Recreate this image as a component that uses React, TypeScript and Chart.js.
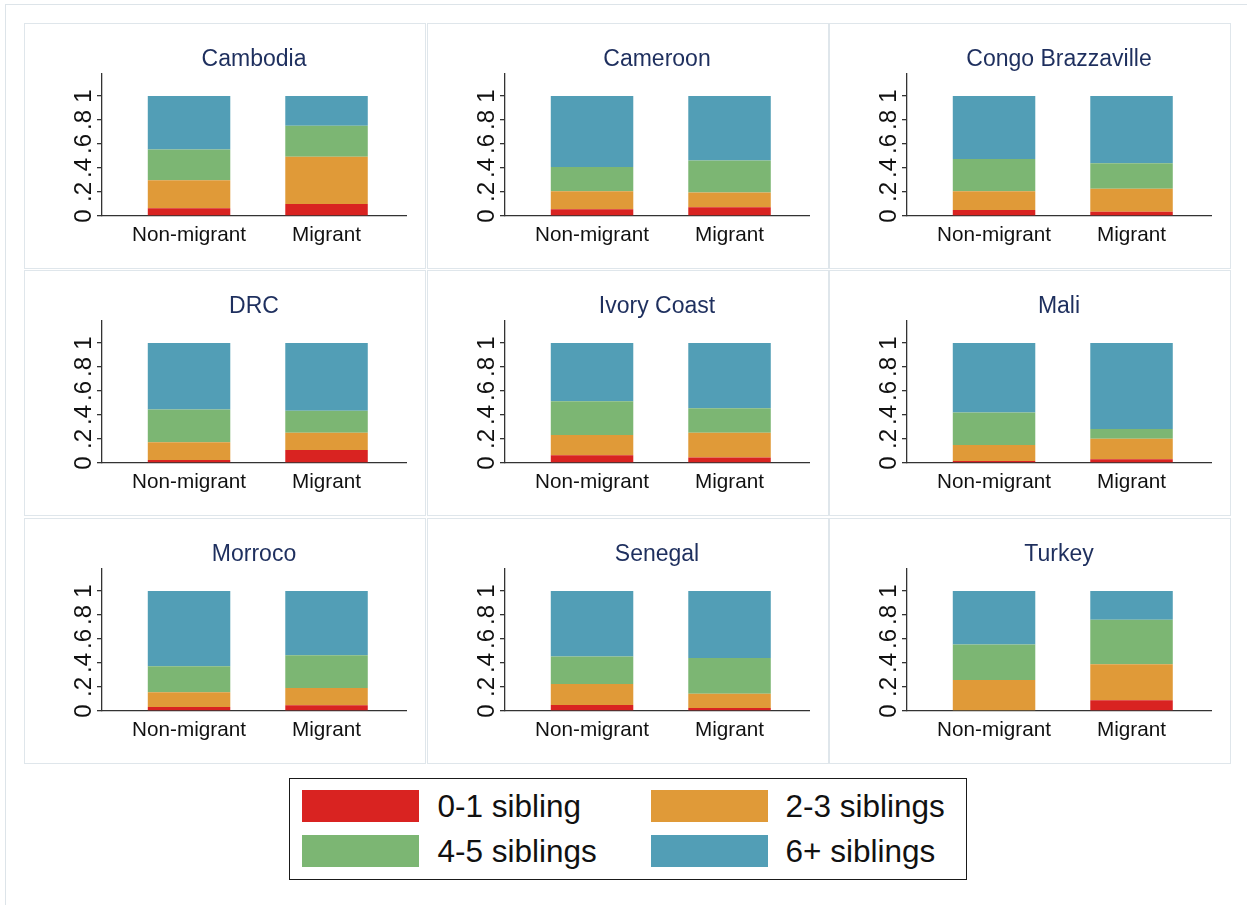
import React, { useEffect, useRef } from 'react';
import { Chart, registerables } from 'chart.js';

Chart.register(...registerables);

const FONT = '"Liberation Sans", Arial, Helvetica, sans-serif';

const COUNTRIES = [
  'Cambodia', 'Cameroon', 'Congo Brazzaville',
  'DRC', 'Ivory Coast', 'Mali',
  'Morroco', 'Senegal', 'Turkey',
];
const GROUPS = ['Non-migrant', 'Migrant'];
const SERIES_LABELS = ['0-1 sibling', '2-3 siblings', '4-5 siblings', '6+ siblings'];
const SERIES_COLORS = ['#d92321', '#e09a38', '#7cb673', '#529eb6'];

// Shares per country: [Non-migrant, Migrant]
const SIB_0_1 = [
  [0.064, 0.100], [0.056, 0.072], [0.050, 0.036],
  [0.025, 0.109], [0.064, 0.045], [0.017, 0.031],
  [0.033, 0.047], [0.050, 0.025], [0.000, 0.089],
];
const SIB_2_3 = [
  [0.234, 0.393], [0.150, 0.123], [0.156, 0.190],
  [0.148, 0.142], [0.170, 0.206], [0.133, 0.172],
  [0.123, 0.145], [0.175, 0.119], [0.258, 0.300],
];
const SIB_4_5 = [
  [0.256, 0.259], [0.203, 0.267], [0.268, 0.214],
  [0.273, 0.184], [0.281, 0.206], [0.271, 0.081],
  [0.216, 0.272], [0.228, 0.298], [0.295, 0.372],
];
const SIB_6P = [
  [0.446, 0.248], [0.591, 0.538], [0.526, 0.560],
  [0.554, 0.565], [0.485, 0.543], [0.579, 0.716],
  [0.628, 0.536], [0.547, 0.558], [0.447, 0.239],
];

const Y_TICKS = [0, 0.2, 0.4, 0.6, 0.8, 1];
const Y_TICK_LABELS = ['0', '.2', '.4', '.6', '.8', '1'];

const SERIES = [SIB_0_1, SIB_2_3, SIB_4_5, SIB_6P];

const COL_LEFT = [24, 427, 829];
const ROW_TOP = [23, 270, 518];
const PANEL_W = 402;
const PANEL_H = 246;

function Panel({ idx }: { idx: number }) {
  const ref = useRef<HTMLCanvasElement>(null);
  useEffect(() => {
    const chart = new Chart(ref.current as HTMLCanvasElement, {
      type: 'bar',
      data: {
        datasets: SERIES.map((s, k) => ({
          label: SERIES_LABELS[k],
          data: GROUPS.map((_, i) => ({ x: i, y: s[idx][i] })),
          backgroundColor: SERIES_COLORS[k],
          borderWidth: 0,
          barPercentage: 0.6,
          categoryPercentage: 1,
        })),
      },
      options: {
        animation: false,
        responsive: false,
        events: [],
        layout: { padding: { left: 0, right: 19, top: 0, bottom: 0 } },
        plugins: {
          legend: { display: false },
          tooltip: { enabled: false },
          title: {
            display: true,
            text: COUNTRIES[idx],
            fullSize: false,
            color: '#1e2f5e',
            font: { family: FONT, size: 23, weight: 'normal' },
            padding: { top: 22.2, bottom: 0.2 },
          },
        },
        scales: {
          x: {
            type: 'linear',
            stacked: true,
            offset: false,
            min: -0.633,
            max: 1.578,
            afterBuildTicks: (s: any) => {
              s.ticks = GROUPS.map((_, i) => ({ value: i }));
            },
            afterFit: (s: any) => {
              s.height = 52;
            },
            ticks: {
              callback: (_v: any, i: number) => GROUPS[i],
              font: { family: FONT, size: 20.7 },
              color: '#111',
              padding: 6.5,
              autoSkip: false,
              maxRotation: 0,
            },
            grid: { display: false, drawTicks: false, offset: false },
            border: { display: true, color: '#333', width: 1.3 },
          },
          y: {
            type: 'linear',
            stacked: true,
            min: 0,
            max: 1.183,
            afterBuildTicks: (s: any) => {
              s.ticks = Y_TICKS.map((v) => ({ value: v }));
            },
            afterFit: (s: any) => {
              s.width = 77;
            },
            ticks: {
              callback: (_v: any, i: number) => Y_TICK_LABELS[i],
              minRotation: 90,
              maxRotation: 90,
              crossAlign: 'center',
              padding: 3,
              font: { family: FONT, size: 24 },
              color: '#111',
              autoSkip: false,
            },
            grid: {
              drawOnChartArea: false,
              drawTicks: true,
              tickLength: 5,
              color: '#333',
              lineWidth: 1.3,
            },
            border: { display: true, color: '#333', width: 1.3 },
          },
        },
      } as any,
    });
    return () => chart.destroy();
  }, [idx]);

  const col = idx % 3;
  const row = Math.floor(idx / 3);
  return (
    <div
      style={{
        position: 'absolute',
        left: COL_LEFT[col],
        top: ROW_TOP[row],
        width: PANEL_W,
        height: PANEL_H,
        boxSizing: 'border-box',
        border: '1px solid #dfe6eb',
        background: '#fff',
      }}
    >
      <canvas ref={ref} width={PANEL_W - 2} height={PANEL_H - 2} style={{ display: 'block' }} />
    </div>
  );
}

function Legend() {
  return (
    <div
      style={{
        position: 'absolute',
        left: 289,
        top: 778,
        width: 678,
        height: 102,
        boxSizing: 'border-box',
        border: '1.5px solid #1a1a1a',
        background: '#fff',
        fontFamily: FONT,
      }}
    >
      {SERIES_LABELS.map((label, k) => {
        const r = Math.floor(k / 2);
        const c = k % 2;
        const swLeft = c === 0 ? 11.5 : 360.5;
        const txLeft = c === 0 ? 147.5 : 495.5;
        const top = r === 0 ? 10.5 : 55.5;
        return (
          <React.Fragment key={label}>
            <div
              style={{
                position: 'absolute',
                left: swLeft,
                top,
                width: 117,
                height: 32,
                background: SERIES_COLORS[k],
              }}
            />
            <div
              style={{
                position: 'absolute',
                left: txLeft,
                top,
                height: 32,
                lineHeight: '32px',
                fontSize: 31.5,
                color: '#111',
                whiteSpace: 'nowrap',
              }}
            >
              {label}
            </div>
          </React.Fragment>
        );
      })}
    </div>
  );
}

export default function App() {
  return (
    <div
      style={{
        position: 'absolute',
        left: 0,
        top: 0,
        width: 1247,
        height: 905,
        background: '#fff',
        overflow: 'hidden',
      }}
    >
      <div
        style={{
          position: 'absolute',
          left: 5,
          top: 4,
          width: 1300,
          height: 1000,
          borderLeft: '1px solid #dde4e9',
          borderTop: '1px solid #dde4e9',
        }}
      />
      {COUNTRIES.map((_, i) => (
        <Panel key={i} idx={i} />
      ))}
      <Legend />
    </div>
  );
}
